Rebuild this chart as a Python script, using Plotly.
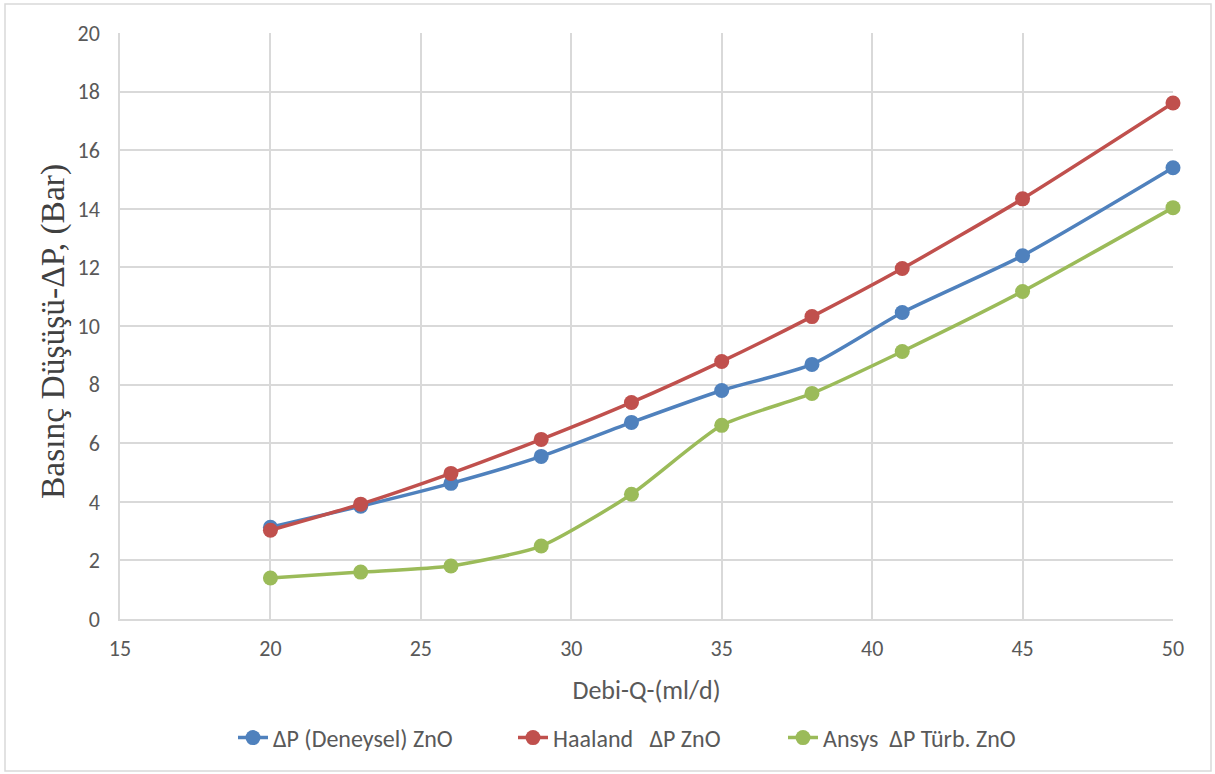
import plotly.graph_objects as go

debi = [20, 23, 26, 29, 32, 35, 38, 41, 45, 50]
deneysel = [3.13, 3.85, 4.63, 5.55, 6.71, 7.80, 8.69, 10.46, 12.40, 15.40]
haaland = [3.03, 3.92, 4.97, 6.13, 7.39, 8.79, 10.32, 11.96, 14.34, 17.61]
ansys = [1.40, 1.60, 1.81, 2.49, 4.26, 6.61, 7.70, 9.13, 11.18, 14.04]

series_names = ["ΔP (Deneysel) ZnO", "Haaland   ΔP ZnO", "Ansys  ΔP Türb. ZnO"]
colors = ["#4F81BD", "#C0504D", "#9BBB59"]
legend_ids = ["legend", "legend2", "legend3"]
y_title = "Basınç Düşüşü-ΔP, (Bar)"
x_title = "Debi-Q-(ml/d)"

W, H = 1215, 774
ml, mr, mt, mb = 120, 42, 33, 155
pw = W - ml - mr
ph = H - mt - mb

fig = go.Figure()
for name, vals, c, lg in zip(series_names, [deneysel, haaland, ansys], colors, legend_ids):
    fig.add_trace(go.Scatter(
        x=debi, y=vals, name=name, mode="lines+markers", legend=lg, cliponaxis=False,
        line=dict(color=c, width=3.5, shape="spline", smoothing=0.6),
        marker=dict(color=c, size=15),
    ))

fig.add_shape(type="rect", xref="paper", yref="paper",
              x0=(5 - ml) / pw, x1=(W - 4 - ml) / pw,
              y0=-(H - 3 - (H - mb)) / ph, y1=(H - mb - 4) / ph,
              line=dict(color="#D9D9D9", width=1.5), fillcolor="rgba(0,0,0,0)", layer="below")

fig.add_annotation(text=y_title, textangle=-90, xref="paper", yref="paper",
                   x=(53 - ml) / pw, y=(H - mb - 332) / ph, xanchor="center", yanchor="middle",
                   showarrow=False,
                   font=dict(family="Liberation Serif, Times New Roman, serif", size=33.5, color="#404040"))

sans = "Carlito, Liberation Sans, Arial, sans-serif"
tickfont = dict(family=sans, size=22, color="#595959")
legfont = dict(family=sans, size=24, color="#595959")
leg_y = (H - mb - 738) / ph
leg_common = dict(orientation="h", yanchor="middle", y=leg_y, xanchor="left",
                  bgcolor="rgba(0,0,0,0)", font=legfont)

fig.update_layout(
    width=W, height=H,
    margin=dict(l=ml, r=mr, t=mt, b=mb),
    paper_bgcolor="white", plot_bgcolor="white",
    showlegend=True,
    legend=dict(x=(233 - ml) / pw, **leg_common),
    legend2=dict(x=(513 - ml) / pw, **leg_common),
    legend3=dict(x=(783 - ml) / pw, **leg_common),
    xaxis=dict(range=[15, 50], dtick=5, tick0=15, showgrid=True, gridcolor="#D9D9D9", gridwidth=1.5,
               showline=True, linecolor="#D9D9D9", linewidth=1.5, zeroline=False,
               tickfont=tickfont, ticks="", ticklabelstandoff=9,
               title=dict(text=x_title, font=dict(family=sans, size=26, color="#595959"), standoff=20)),
    yaxis=dict(range=[0, 20], dtick=2, showgrid=True, gridcolor="#D9D9D9", gridwidth=1.5,
               showline=True, linecolor="#D9D9D9", linewidth=1.5, zeroline=False,
               tickfont=tickfont, ticks="", ticklabelstandoff=14),
)
fig.write_html("out.html", config={"displayModeBar": False},
               post_script="document.body.style.margin='0';document.body.style.padding='0';")
